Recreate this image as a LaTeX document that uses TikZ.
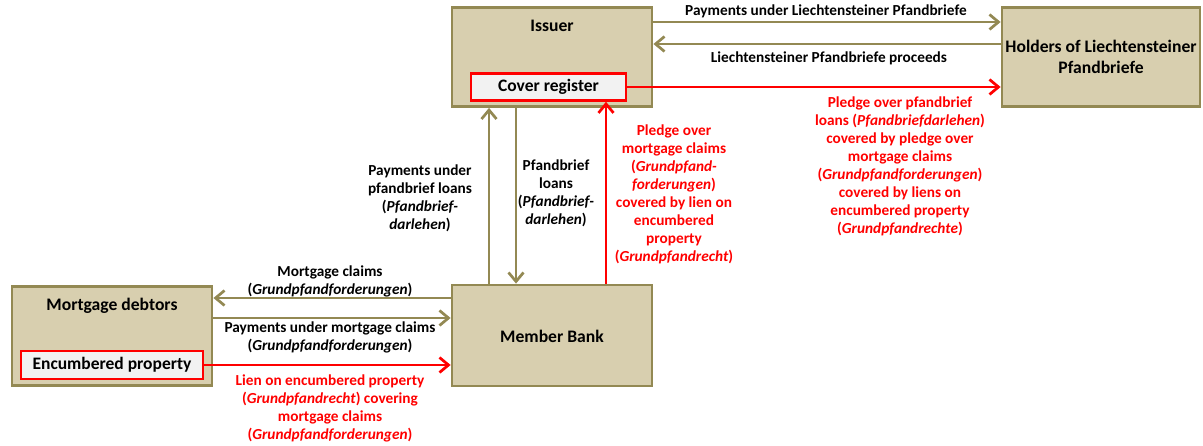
\documentclass[tikz,border=0pt]{standalone}
\usepackage{fontspec}
\setmainfont{Carlito}
\usetikzlibrary{arrows.meta}
\definecolor{boxfill}{HTML}{D8CFAF}
\definecolor{boxline}{HTML}{938953}
\definecolor{subfill}{HTML}{F2F2F2}
\definecolor{myred}{HTML}{FF0000}
\tikzset{
  party/.style={draw=boxline, fill=boxfill, line width=2.8pt, minimum width=200pt, minimum height=99pt, inner sep=0pt},
  subbox/.style={draw=myred, fill=subfill, line width=2.6pt, inner sep=0pt, font=\fontsize{17.5}{20}\selectfont\bfseries},
  title/.style={font=\fontsize{17.6}{21}\selectfont\bfseries, align=center, inner sep=0pt},
  lbl/.style={font=\fontsize{15.3}{18}\selectfont\bfseries, align=center, inner sep=0pt},
  rlbl/.style={lbl, text=myred},
  flow/.style={draw=boxline, line width=2.7pt, -{Straight Barb[length=9pt,width=15pt,line width=2.7pt]}},
  rflow/.style={draw=myred, line width=2.7pt, -{Straight Barb[length=9pt,width=15pt,line width=2.7pt]}},
}
\begin{document}
\begin{tikzpicture}[x=1pt,y=-1pt]
\useasboundingbox (0,0) rectangle (1203,446);
% boxes
\node[party] (issuer) at (552,57) {};
\node[title] (issuert) at (552,26) {Issuer};
\node[subbox, minimum width=155pt, minimum height=27pt] (cover) at (548.5,87) {Cover register};
\node[party, minimum width=198pt] (holders) at (1101,57) {};
\node[title] (holderst) at (1101,57) {Holders of Liechtensteiner\\Pfandbriefe};
\node[party] (debtors) at (112,336) {};
\node[title] (debtorst) at (112,306) {Mortgage debtors};
\node[subbox, minimum width=182pt, minimum height=28pt] (encumb) at (112,365) {Encumbered property};
\node[party, minimum height=101pt] (bank) at (552,335.5) {};
\node[title] (bankt) at (552,336) {Member Bank};
% top arrows
\coordinate (a1s) at (issuer.east |- 0,22);
\coordinate (a1e) at (holders.west |- 0,22);
\draw[flow] (a1s) -- (a1e);
\node[lbl] (l1) at (826,11) {Payments under Liechtensteiner Pfandbriefe};
\coordinate (a2s) at (holders.west |- 0,44);
\coordinate (a2e) at (issuer.east |- 0,44);
\draw[flow] (a2s) -- (a2e);
\node[lbl] (l2) at (829,58) {Liechtensteiner Pfandbriefe proceeds};
\coordinate (a3e) at (holders.west |- cover.east);
\draw[rflow] (cover.east) -- (a3e);
\node[rlbl] (l3) at (900,166) {Pledge over pfandbrief\\loans (\textit{Pfandbriefdarlehen})\\covered by pledge over\\mortgage claims\\(\textit{Grundpfandforderungen})\\covered by liens on\\encumbered property\\(\textit{Grundpfandrechte})};
% vertical arrows
\coordinate (v1s) at (489,0 |- bank.north);
\coordinate (v1e) at (489,0 |- issuer.south);
\draw[flow] (v1s) -- (v1e);
\node[lbl] (l4) at (420,198) {Payments under\\pfandbrief loans\\(\textit{Pfandbrief-}\\\textit{darlehen})};
\coordinate (v2s) at (516,0 |- issuer.south);
\coordinate (v2e) at (516,0 |- bank.north);
\draw[flow] (v2s) -- (v2e);
\node[lbl] (l5) at (556,193) {Pfandbrief\\loans\\(\textit{Pfandbrief-}\\\textit{darlehen})};
\coordinate (v3s) at (606,0 |- bank.north);
\coordinate (v3e) at (606,0 |- cover.south);
\draw[rflow] (v3s) -- (v3e);
\node[rlbl] (l6) at (674,194) {Pledge over\\mortgage claims\\(\textit{Grundpfand-}\\\textit{forderungen})\\covered by lien on\\encumbered\\property\\(\textit{Grundpfandrecht})};
% bottom arrows
\coordinate (b1s) at (bank.west |- 0,298);
\coordinate (b1e) at (debtors.east |- 0,298);
\draw[flow] (b1s) -- (b1e);
\node[lbl] (l7) at (330,281) {Mortgage claims\\(\textit{Grundpfandforderungen})};
\coordinate (b2s) at (debtors.east |- 0,318);
\coordinate (b2e) at (bank.west |- 0,318);
\draw[flow] (b2s) -- (b2e);
\node[lbl] (l8) at (330,337) {Payments under mortgage claims\\(\textit{Grundpfandforderungen})};
\coordinate (b3e) at (bank.west |- encumb.east);
\draw[rflow] (encumb.east) -- (b3e);
\node[rlbl] (l9) at (330,408) {Lien on encumbered property\\(\textit{Grundpfandrecht}) covering\\mortgage claims\\(\textit{Grundpfandforderungen})};
\end{tikzpicture}
\end{document}
